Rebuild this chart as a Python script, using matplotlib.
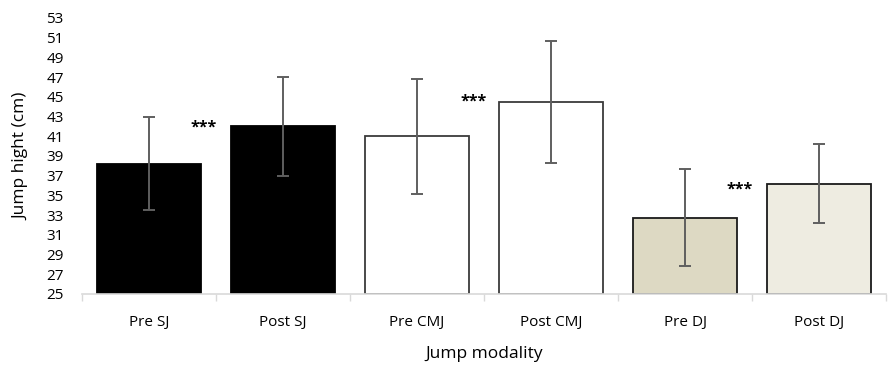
import matplotlib
matplotlib.use("Agg")
import matplotlib.pyplot as plt
import numpy as np

labels = ["Pre SJ", "Post SJ", "Pre CMJ", "Post CMJ", "Pre DJ", "Post DJ"]
means = [38.2, 42.0, 41.0, 44.5, 32.75, 36.2]
sds = [4.7, 5.0, 5.85, 6.2, 4.95, 4.0]
fills = ["#000000", "#000000", "#ffffff", "#ffffff", "#ddd9c3", "#eeece1"]
edges = ["#000000", "#000000", "#3a3a3a", "#3a3a3a", "#1a1a1a", "#1a1a1a"]
star_x = [0.41, 2.42, 4.41]
star_y = [41.9, 44.5, 35.55]

plt.rcParams["font.family"] = ["Open Sans", "DejaVu Sans"]

fig = plt.figure(figsize=(8.88, 3.66), dpi=100)
ax = fig.add_axes([0.092, 0.197, 0.906, 0.754])

x = np.arange(len(labels))
ax.bar(x, [m - 25 for m in means], bottom=25, width=0.775, color=fills,
       edgecolor=edges, linewidth=1.3, zorder=2)
ax.errorbar(x, means, yerr=sds, fmt="none", ecolor="#5f5f5f",
            elinewidth=1.4, capsize=4, capthick=1.4, zorder=3)

for sx, sy in zip(star_x, star_y):
    ax.text(sx, sy, "***", ha="center", va="center", fontsize=11.5,
            fontweight="bold")

ax.set_xlim(-0.5, len(labels) - 0.5)
ax.set_ylim(25, 53)
ax.set_yticks(np.arange(25, 54, 2))
ax.set_xticks(x)
ax.set_xticklabels(labels)
ax.set_xticks(np.arange(-0.5, len(labels), 1), minor=True)
ax.tick_params(axis="x", which="major", length=0, pad=15, labelsize=11)
ax.tick_params(axis="x", which="minor", length=5, color="#d9d9d9", width=1)
ax.tick_params(axis="y", length=0, pad=13, labelsize=11)

for side in ["top", "right", "left"]:
    ax.spines[side].set_visible(False)
ax.spines["bottom"].set_color("#d9d9d9")
ax.spines["bottom"].set_linewidth(1.2)

ax.set_xlabel("Jump modality", fontsize=12.5, labelpad=12)
ax.set_ylabel("Jump hight (cm)", fontsize=12.5, labelpad=12)

fig.savefig("out.png", dpi=100)
